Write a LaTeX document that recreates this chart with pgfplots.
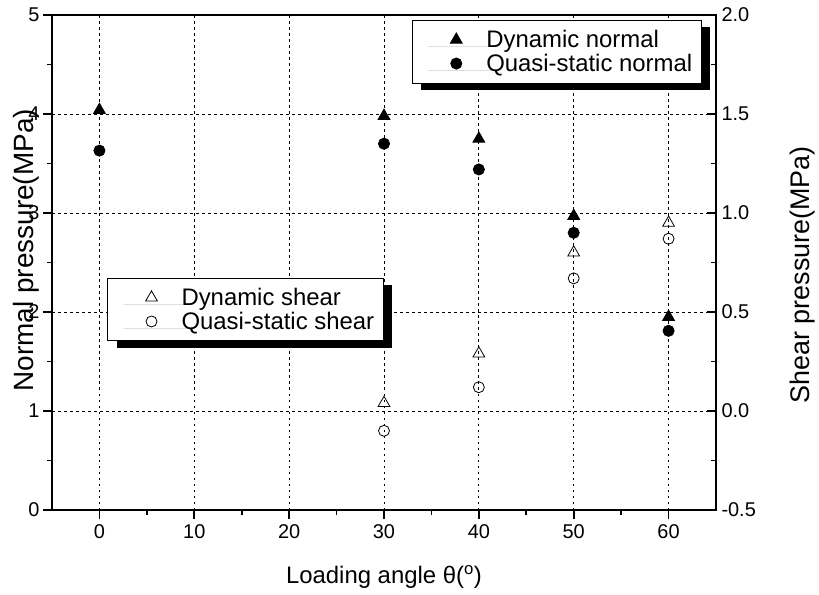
\documentclass[border=0pt]{standalone}
\usepackage{pgfplots}
\pgfplotsset{compat=1.18}
\usepackage{fontspec}
\setmainfont{Liberation Sans}
\usetikzlibrary{shadows}

\pgfplotsset{
  common/.style={
    scale only axis, width=664bp, height=495bp, at={(0,0)}, anchor=south west,
    xmin=-5, xmax=65,
    axis line style={line width=1.6bp},
    every tick/.style={line width=1.6bp, black},
    major tick length=9bp, minor tick length=5bp,
    tick label style={font=\fontsize{20}{20}\selectfont},
    /pgf/number format/assume math mode=true,
    legend cell align=left,
    legend image code/.code={\path[draw=none, draw opacity=0, mark repeat=2, mark phase=2] plot coordinates {(0bp,0bp)(37bp,0bp)(65bp,0bp)};},
  },
  leg/.style={legend style={draw=black, line width=0.8bp, fill=white,
      drop shadow={shadow xshift=9bp, shadow yshift=-7bp, fill=black, opacity=1},
      font=\fontsize{24}{26}\selectfont, inner xsep=7bp, inner ysep=8bp, row sep=1bp}},
  pt/.style={black, draw=none, mark options={solid, draw=black, draw opacity=1, line width=0.8bp}},
}

\begin{document}
\begin{tikzpicture}
\path[use as bounding box] (-52bp,-85bp) rectangle (767bp,510bp);

\begin{axis}[common, leg,
  ymin=0, ymax=5, ytick={0,1,...,5}, minor y tick num=1,
  xtick={0,10,...,60}, minor x tick num=1,
  xtick pos=bottom, ytick pos=left, tick align=outside,
  grid=major, grid style={dash pattern=on 2.5bp off 3.5bp, line width=0.8bp, black},
  xticklabel style={yshift=-2bp},
  xlabel={Loading angle θ(\textsuperscript{o})},
  xlabel style={at={(axis description cs:0.5,0)}, anchor=center, yshift=-67bp, font=\fontsize{24}{24}\selectfont},
  ylabel={Normal pressure(MPa)},
  ylabel style={at={(axis description cs:0,0.525)}, anchor=center, yshift=26bp, font=\fontsize{28}{28}\selectfont},
  legend style={at={(rel axis cs:0.542,0.99)}, anchor=north west},
]
\addplot[pt, mark=triangle*, mark size=6.8bp] coordinates {(0,4.04) (30,3.98) (40,3.75) (50,2.97) (60,1.95)};
\addlegendentry{Dynamic normal}
\addplot[pt, mark=*, mark size=5.6bp] coordinates {(0,3.63) (30,3.70) (40,3.44) (50,2.80) (60,1.81)};
\addlegendentry{Quasi-static normal}
\end{axis}

\begin{axis}[common, leg,
  axis x line=none, axis y line*=right,
  ymin=-0.5, ymax=2, ytick={-0.5,0,0.5,1,1.5,2}, minor y tick num=1,
  tick align=inside,
  yticklabel style={/pgf/number format/fixed, /pgf/number format/fixed zerofill, /pgf/number format/precision=1, xshift=2bp},
  ylabel={Shear pressure(MPa)},
  ylabel style={at={(axis description cs:1,0.475)}, anchor=center, yshift=-87bp, font=\fontsize{27}{27}\selectfont},
  legend style={at={(rel axis cs:0.083,0.469)}, anchor=north west},
]
\addplot[pt, mark=triangle, mark size=6.8bp] coordinates {(30,0.04) (40,0.29) (50,0.80) (60,0.95)};
\addlegendentry{Dynamic shear}
\addplot[pt, mark=o, mark size=5.5bp] coordinates {(30,-0.10) (40,0.12) (50,0.67) (60,0.87)};
\addlegendentry{Quasi-static shear}
\end{axis}
\end{tikzpicture}
\end{document}
